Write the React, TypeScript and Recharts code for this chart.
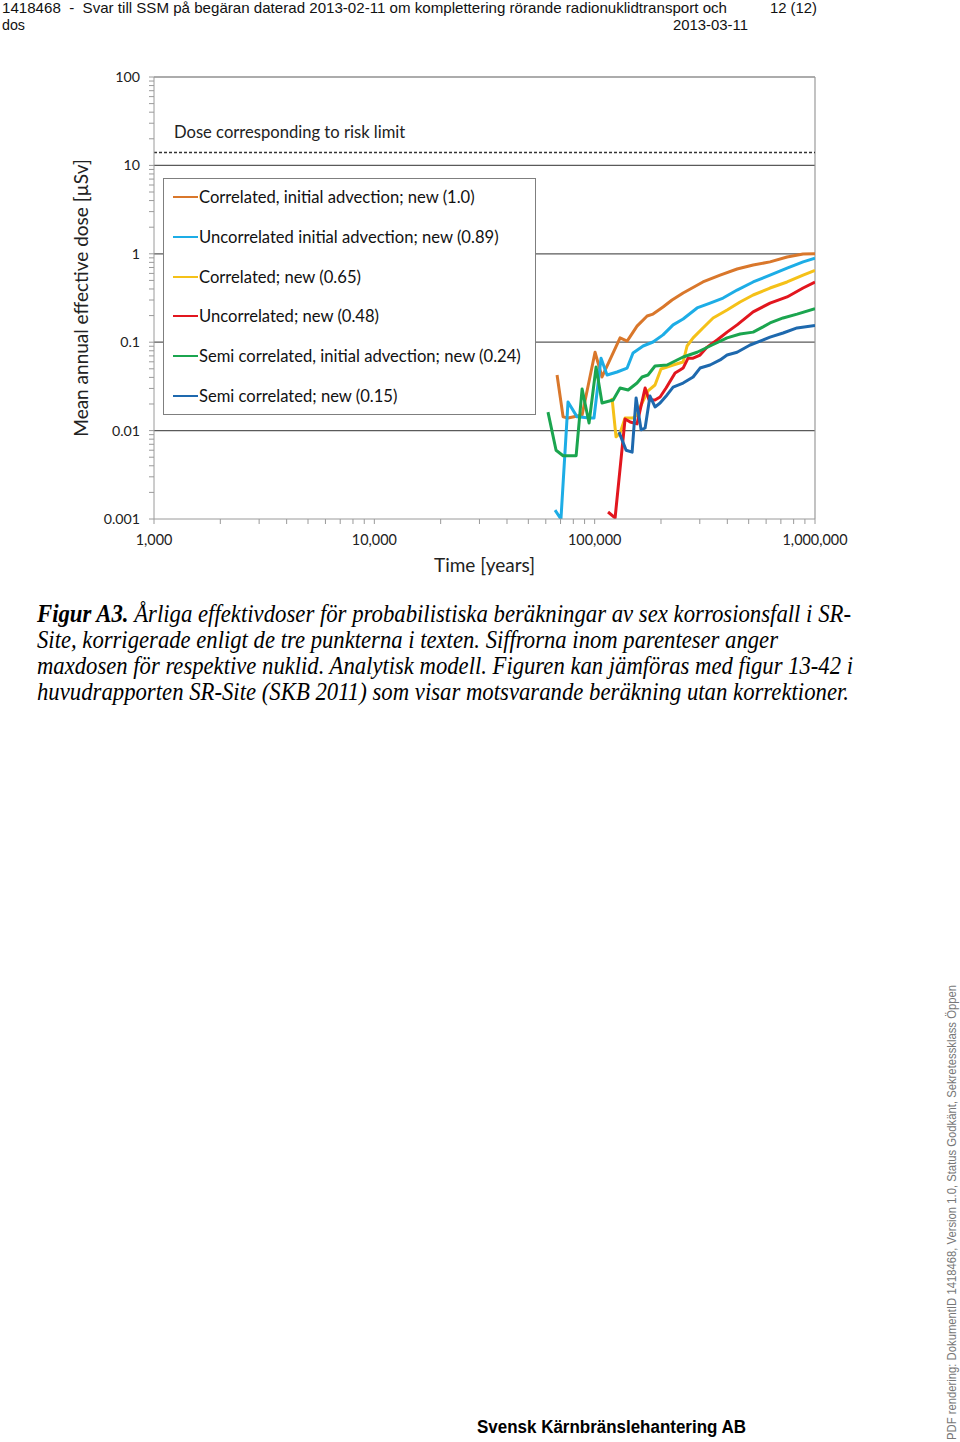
import React from 'react';
import { LineChart, Line, XAxis, YAxis, ReferenceLine, Legend } from 'recharts';

// ---- Data (time in years, dose in µSv) ----
const orangeTime = [67500, 71900, 75700, 87700, 100400, 108000, 130400, 140400, 155700, 173000, 184000, 204300, 224500, 252000, 310000, 371000, 443000, 524000, 625000, 747000, 883000, 1000000];
const orangeDose = [0.0426, 0.0143, 0.0139, 0.015, 0.077, 0.0404, 0.112, 0.103, 0.152, 0.198, 0.208, 0.25, 0.3, 0.36, 0.48, 0.575, 0.673, 0.747, 0.81, 0.92, 0.995, 1.0];

const cyanTime = [66100, 70300, 75700, 83200, 95300, 99300, 106900, 113800, 126400, 140400, 149300, 165900, 184000, 204300, 227000, 252000, 291700, 334000, 382700, 443000, 524000, 625000, 747000, 883000, 1000000];
const cyanDose = [0.00126, 0.001, 0.0211, 0.0143, 0.0139, 0.0139, 0.066, 0.0426, 0.046, 0.051, 0.0755, 0.0906, 0.1005, 0.121, 0.157, 0.183, 0.244, 0.277, 0.316, 0.389, 0.48, 0.575, 0.69, 0.81, 0.89];

const yellowTime = [119900, 125000, 130400, 137400, 149300, 155700, 162400, 174600, 187900, 200000, 213100, 227000, 252000, 262600, 279800, 310000, 344700, 399000, 457000, 524000, 625000, 747000, 883000, 1000000];
const yellowDose = [0.0234, 0.0085, 0.0094, 0.0139, 0.0139, 0.015, 0.0195, 0.0281, 0.0328, 0.0498, 0.0524, 0.0552, 0.0597, 0.0906, 0.112, 0.145, 0.188, 0.231, 0.285, 0.342, 0.41, 0.48, 0.575, 0.65];

const redTime = [115000, 123800, 137400, 144900, 155700, 169400, 176600, 187900, 198100, 210900, 231700, 244000, 252000, 265400, 279800, 300800, 323900, 359400, 399000, 443000, 524000, 625000, 747000, 883000, 1000000];
const redDose = [0.0012, 0.00103, 0.0135, 0.0125, 0.0119, 0.0303, 0.0222, 0.0222, 0.024, 0.0303, 0.0449, 0.0485, 0.051, 0.066, 0.066, 0.0716, 0.088, 0.106, 0.13, 0.157, 0.22, 0.277, 0.325, 0.41, 0.48];

const greenTime = [61400, 66800, 71900, 82400, 87700, 94300, 101500, 108000, 121300, 130400, 141900, 155700, 164100, 174600, 187900, 213100, 252000, 291700, 341200, 399000, 457000, 524000, 581000, 625000, 716400, 829000, 1000000];
const greenDose = [0.0162, 0.006, 0.0052, 0.0052, 0.0296, 0.0122, 0.0524, 0.0205, 0.0222, 0.0303, 0.0288, 0.0345, 0.0404, 0.0426, 0.0538, 0.0552, 0.068, 0.077, 0.093, 0.112, 0.124, 0.13, 0.149, 0.165, 0.188, 0.208, 0.24];

const blueTime = [129000, 138900, 147900, 154200, 162400, 169400, 178300, 187900, 198100, 213100, 227000, 252000, 279800, 300800, 334000, 371000, 399000, 443000, 507600, 563600, 625000, 716400, 829000, 1000000];
const blueDose = [0.0096, 0.006, 0.0057, 0.0234, 0.0102, 0.0107, 0.0246, 0.0185, 0.0205, 0.0253, 0.0311, 0.0345, 0.0404, 0.051, 0.0552, 0.063, 0.0716, 0.077, 0.093, 0.103, 0.114, 0.127, 0.145, 0.155];

const riskLimitDose = 14;

const X_DECADES = [1000, 10000, 100000, 1000000];
const Y_DECADES = [0.001, 0.01, 0.1, 1, 10, 100];
const MINOR_MULT = [2, 3, 4, 5, 6, 7, 8, 9];

const xTicks = [...X_DECADES, ...X_DECADES.slice(0, -1).flatMap((d) => MINOR_MULT.map((m) => d * m))].sort((a, b) => a - b);
const yTicks = [...Y_DECADES, ...Y_DECADES.slice(0, -1).flatMap((d) => MINOR_MULT.map((m) => d * m))].sort((a, b) => a - b);

const zip = (t: number[], d: number[]) => t.map((tt, i) => ({ t: tt, d: d[i] }));

const SERIES = [
  { name: 'Correlated, initial advection; new (1.0)', color: '#D9772B', data: zip(orangeTime, orangeDose) },
  { name: 'Uncorrelated initial advection; new (0.89)', color: '#1DADE6', data: zip(cyanTime, cyanDose) },
  { name: 'Correlated; new (0.65)', color: '#F5C118', data: zip(yellowTime, yellowDose) },
  { name: 'Uncorrelated; new (0.48)', color: '#E2161E', data: zip(redTime, redDose) },
  { name: 'Semi correlated, initial advection; new (0.24)', color: '#1BA54F', data: zip(greenTime, greenDose) },
  { name: 'Semi correlated; new (0.15)', color: '#1E69AE', data: zip(blueTime, blueDose) },
];

const FONT = 'Lato, "Open Sans", sans-serif';

const YTick = (props: any) => {
  const { x, y, payload } = props;
  if (!Y_DECADES.includes(payload.value)) return <g />;
  return (
    <text x={x} y={y} dy={5} textAnchor="end" fontSize={14.2} fontFamily={FONT} fill="#222">
      {String(payload.value)}
    </text>
  );
};

const XTick = (props: any) => {
  const { x, y, payload } = props;
  if (!X_DECADES.includes(payload.value)) return <g />;
  return (
    <text x={x} y={y} dy={9} textAnchor="middle" fontSize={14.4} fontFamily={FONT} fill="#222">
      {payload.value.toLocaleString('en-US')}
    </text>
  );
};

const YTitle = (props: any) => {
  const vb = props.viewBox || { x: 0, y: 77, width: 154, height: 442 };
  const cx = vb.x + 80;
  const cy = vb.y + vb.height / 2;
  return (
    <text x={cx} y={cy} transform={`rotate(-90 ${cx} ${cy})`} textAnchor="middle" dominantBaseline="central" fontSize={19} fontFamily={FONT} fill="#222">
      Mean annual effective dose [µSv]
    </text>
  );
};

const XTitle = (props: any) => {
  const vb = props.viewBox || { x: 154, y: 519, width: 661, height: 60 };
  return (
    <text x={vb.x + vb.width / 2} y={vb.y + 53} textAnchor="middle" fontSize={19} fontFamily={FONT} fill="#222">
      Time [years]
    </text>
  );
};

const RiskLabel = (props: any) => {
  const vb = props.viewBox || { x: 154, y: 152 };
  return (
    <text x={vb.x + 20} y={vb.y - 14} fontSize={16.6} fontFamily={FONT} fill="#222">
      Dose corresponding to risk limit
    </text>
  );
};

const LegendBox = () => (
  <div style={{ width: 373, height: 237, border: '1px solid #7f7f7f', background: '#fff', boxSizing: 'border-box', position: 'relative' }}>
    {SERIES.map((s, i) => (
      <div key={s.name} style={{ position: 'absolute', left: 9, top: 18 + i * 39.8 - 11, height: 22, display: 'flex', alignItems: 'center', whiteSpace: 'nowrap' }}>
        <span style={{ display: 'inline-block', width: 25, height: 0, borderTop: `2.5px solid ${s.color}` }} />
        <span style={{ fontFamily: FONT, fontSize: 16.6, color: '#111', marginLeft: 1 }}>{s.name}</span>
      </div>
    ))}
  </div>
);

export default function App() {
  return (
    <div style={{ position: 'absolute', left: 0, top: 0, width: 960, height: 1442, background: '#fff' }}>
      <svg width={960} height={1442} style={{ position: 'absolute', left: 0, top: 0 }}>
        <g fontFamily='"Liberation Sans", Arial, sans-serif' fill="#111">
          <text x={2} y={13} fontSize={15} textLength={725} lengthAdjust="spacingAndGlyphs" style={{ whiteSpace: 'pre' }}>
            {'1418468  -  Svar till SSM på begäran daterad 2013-02-11 om komplettering rörande radionuklidtransport och'}
          </text>
          <text x={2} y={30} fontSize={15} textLength={23} lengthAdjust="spacingAndGlyphs">dos</text>
          <text x={673} y={30} fontSize={15} textLength={75} lengthAdjust="spacingAndGlyphs">2013-03-11</text>
          <text x={770} y={13} fontSize={15} textLength={47} lengthAdjust="spacingAndGlyphs">12 (12)</text>
        </g>
        <g fontFamily='"Liberation Serif", "Times New Roman", serif' fontStyle="italic" fontSize={25} fill="#000">
          <text x={37} y={622} textLength={814} lengthAdjust="spacingAndGlyphs">
            <tspan fontWeight="bold">Figur A3.</tspan> Årliga effektivdoser för probabilistiska beräkningar av sex korrosionsfall i SR-
          </text>
          <text x={37} y={648} textLength={741} lengthAdjust="spacingAndGlyphs">
            Site, korrigerade enligt de tre punkterna i texten. Siffrorna inom parenteser anger
          </text>
          <text x={37} y={674} textLength={816} lengthAdjust="spacingAndGlyphs">
            maxdosen för respektive nuklid. Analytisk modell. Figuren kan jämföras med figur 13-42 i
          </text>
          <text x={37} y={700} textLength={812} lengthAdjust="spacingAndGlyphs">
            huvudrapporten SR-Site (SKB 2011) som visar motsvarande beräkning utan korrektioner.
          </text>
        </g>
        <text x={477} y={1433} fontFamily='"Liberation Sans", Arial, sans-serif' fontWeight="bold" fontSize={18} textLength={269} lengthAdjust="spacingAndGlyphs" fill="#000">
          Svensk Kärnbränslehantering AB
        </text>
        <text x={956} y={1440} transform="rotate(-90 956 1440)" fontFamily='"Liberation Sans", Arial, sans-serif' fontSize={12.5} textLength={455} lengthAdjust="spacingAndGlyphs" fill="#777">
          PDF rendering: DokumentID 1418468, Version 1.0, Status Godkänt, Sekretessklass Öppen
        </text>
      </svg>
      <div style={{ position: 'absolute', left: 0, top: 0 }}>
        <LineChart width={960} height={600} margin={{ top: 77, right: 145, bottom: 21, left: 0 }}>
          <XAxis
            dataKey="t"
            type="number"
            scale="log"
            domain={[1000, 1000000]}
            allowDataOverflow
            ticks={xTicks}
            interval={0}
            height={60}
            tick={<XTick />}
            tickSize={5}
            tickMargin={12}
            axisLine={{ stroke: '#9a9a9a' }}
            tickLine={{ stroke: '#9a9a9a' }}
            label={<XTitle />}
          />
          <YAxis
            dataKey="d"
            type="number"
            scale="log"
            domain={[0.001, 100]}
            allowDataOverflow
            ticks={yTicks}
            interval={0}
            width={154}
            tick={<YTick />}
            tickSize={5}
            tickMargin={9}
            axisLine={{ stroke: '#9a9a9a' }}
            tickLine={{ stroke: '#9a9a9a' }}
            label={<YTitle />}
          />
          {Y_DECADES.slice(1).map((v) => (
            <ReferenceLine key={v} y={v} stroke="#5a5a5a" strokeWidth={1.2} />
          ))}
          <ReferenceLine x={1000000} stroke="#9a9a9a" strokeWidth={1.2} />
          <ReferenceLine y={riskLimitDose} stroke="#333" strokeWidth={1.5} strokeDasharray="3 2" label={<RiskLabel />} />
          {SERIES.map((s) => (
            <Line
              key={s.name}
              data={s.data}
              dataKey="d"
              name={s.name}
              stroke={s.color}
              strokeWidth={3}
              strokeLinejoin="round"
              dot={false}
              activeDot={false}
              isAnimationActive={false}
            />
          ))}
          <Legend
            layout="vertical"
            align="center"
            verticalAlign="middle"
            content={<LegendBox />}
            wrapperStyle={{ left: 163, top: 178, width: 373, height: 237 }}
          />
        </LineChart>
      </div>
    </div>
  );
}
